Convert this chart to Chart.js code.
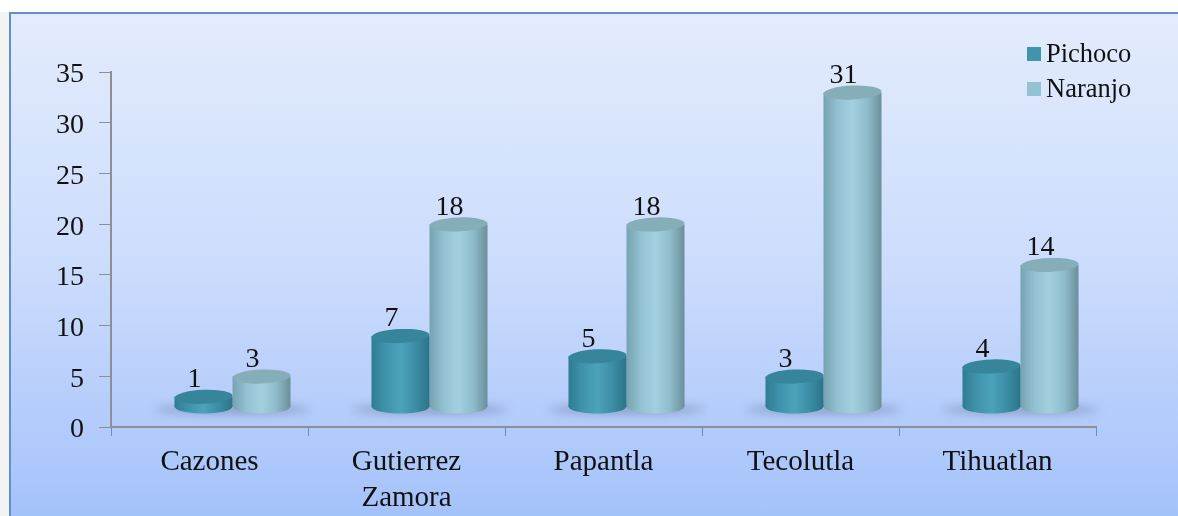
<!DOCTYPE html>
<html>
<head>
<meta charset="utf-8">
<title>Pichoco y Naranjo</title>
<script src="https://cdn.jsdelivr.net/npm/chart.js@4"></script>
<style>
    html, body { margin: 0; background: #fff; overflow: hidden; }
    #page { position: relative; width: 1178px; height: 516px; background: #f3f3f3; }
    #fond {
        position: absolute; left: 9px; top: 12px; right: 0; bottom: 0;
        border-left: 2px solid #5f90c9; border-top: 2px solid #5f90c9;
        background: linear-gradient(to bottom, #e3ecfd 0%, #ccdcfc 50%, #a4c2fa 100%);
    }
    #blanc { position: absolute; left: 0; top: 0; right: 0; height: 12px; background: #fff; }
    #graphique { position: absolute; left: 0; top: 0; }
</style>
</head>
<body>
<div id="page">
    <div id="blanc"></div>
    <div id="fond"></div>
    <canvas id="graphique" width="1178" height="516"></canvas>
</div>
<script>
const categories = [['Cazones'], ['Gutierrez', 'Zamora'], ['Papantla'], ['Tecolutla'], ['Tihuatlan']];
const pichoco = [1, 7, 5, 3, 4];
const naranjo = [3, 18, 18, 31, 14];
const yTicks = [0, 5, 10, 15, 20, 25, 30, 35];

// decalage "3D" des cylindres par rapport aux axes
const DX = 23, DY = -20, RY = 7;
const serif = '"Liberation Serif", "Times New Roman", serif';

const palettes = [
    { side: ['#2f7c92', '#3f94ac', '#4ba3ba', '#3d8ea6', '#2b7488'], top: '#36859b', legend: '#4095ad' },
    { side: ['#76a3b0', '#93c2d2', '#a3d0df', '#8fbccb', '#6b8f9b'], top: '#86aeb9', legend: '#93c3d3' }
];

function degrade(ctx, x0, x1, couleurs) {
    const g = ctx.createLinearGradient(x0, 0, x1, 0);
    couleurs.forEach((c, i) => g.addColorStop(i / (couleurs.length - 1), c));
    return g;
}

const cylindres = {
    id: 'cylindres',
    beforeDatasetsDraw(chart) {
        // ombres au sol
        const { ctx } = chart;
        const barres = chart.getDatasetMeta(0).data;
        ctx.save();
        ctx.filter = 'blur(5px)';
        ctx.fillStyle = 'rgba(60, 70, 110, 0.4)';
        barres.forEach(b => {
            ctx.beginPath();
            ctx.ellipse(b.x + b.width / 2 + DX, b.base + DY + 3, b.width * 1.35, 4, 0, 0, Math.PI * 2);
            ctx.fill();
        });
        ctx.restore();
    },
    beforeDatasetDraw(chart, args) {
        const pal = palettes[args.index];
        args.meta.data.forEach(b => {
            const rx = b.width / 2;
            // le degrade depend de la position de la barre, connue seulement ici
            b.options = { ...b.options, backgroundColor: degrade(chart.ctx, b.x - rx, b.x + rx, pal.side) };
        });
        chart.ctx.save();
        chart.ctx.translate(DX, DY);
    },
    afterDatasetDraw(chart, args) {
        const { ctx } = chart;
        const pal = palettes[args.index];
        args.meta.data.forEach(b => {
            const rx = b.width / 2;
            // fond arrondi du cylindre
            ctx.fillStyle = degrade(ctx, b.x - rx, b.x + rx, pal.side);
            ctx.beginPath();
            ctx.ellipse(b.x, b.base, rx, RY, 0, 0, Math.PI * 2);
            ctx.fill();
            // dessus
            ctx.fillStyle = pal.top;
            ctx.beginPath();
            ctx.ellipse(b.x, b.y, rx, RY, -0.04, 0, Math.PI * 2);
            ctx.fill();
        });
        ctx.restore();
    },
    afterDatasetsDraw(chart) {
        // etiquettes de valeurs
        const { ctx } = chart;
        ctx.save();
        ctx.font = '28px ' + serif;
        ctx.fillStyle = '#111';
        ctx.textAlign = 'center';
        ctx.textBaseline = 'middle';
        chart.data.datasets.forEach((ds, i) => {
            chart.getDatasetMeta(i).data.forEach((b, j) => {
                ctx.fillText(String(ds.data[j]), b.x + DX - 9, b.y + DY - 17);
            });
        });
        // legende
        ctx.font = '26.5px ' + serif;
        ctx.textAlign = 'left';
        chart.data.datasets.forEach((ds, i) => {
            const y = 54 + i * 35;
            ctx.fillStyle = palettes[i].legend;
            ctx.fillRect(1027, y - 7, 14, 14);
            ctx.fillStyle = '#111';
            ctx.fillText(ds.label, 1046, y + 1);
        });
        ctx.restore();
    }
};

new Chart(document.getElementById('graphique'), {
    type: 'bar',
    data: {
        labels: categories,
        datasets: [
            { label: 'Pichoco', data: pichoco, backgroundColor: palettes[0].legend },
            { label: 'Naranjo', data: naranjo, backgroundColor: palettes[1].legend }
        ]
    },
    plugins: [cylindres],
    options: {
        responsive: false,
        animation: false,
        layout: { padding: { top: 72, right: 82, left: 0, bottom: 0 } },
        categoryPercentage: 0.589,
        barPercentage: 1,
        plugins: { legend: { display: false }, tooltip: { enabled: false } },
        scales: {
            x: {
                afterFit: axis => { axis.height = 89; },
                border: { color: '#8c8f94', width: 2 },
                grid: { drawOnChartArea: false, color: '#5f90c9', tickLength: 9 },
                ticks: {
                    color: '#111', padding: 9, maxRotation: 0,
                    font: { family: serif, size: 29, lineHeight: 1.22 }
                }
            },
            y: {
                min: 0, max: 35,
                afterFit: axis => { axis.width = 111; },
                afterBuildTicks: axis => { axis.ticks = yTicks.map(v => ({ value: v })); },
                border: { color: '#8c8f94', width: 2 },
                grid: { drawOnChartArea: false, color: '#8c8f94', tickLength: 12 },
                ticks: { color: '#111', padding: 15, labelOffset: 3, font: { family: serif, size: 28 } }
            }
        }
    }
});
</script>
</body>
</html>
